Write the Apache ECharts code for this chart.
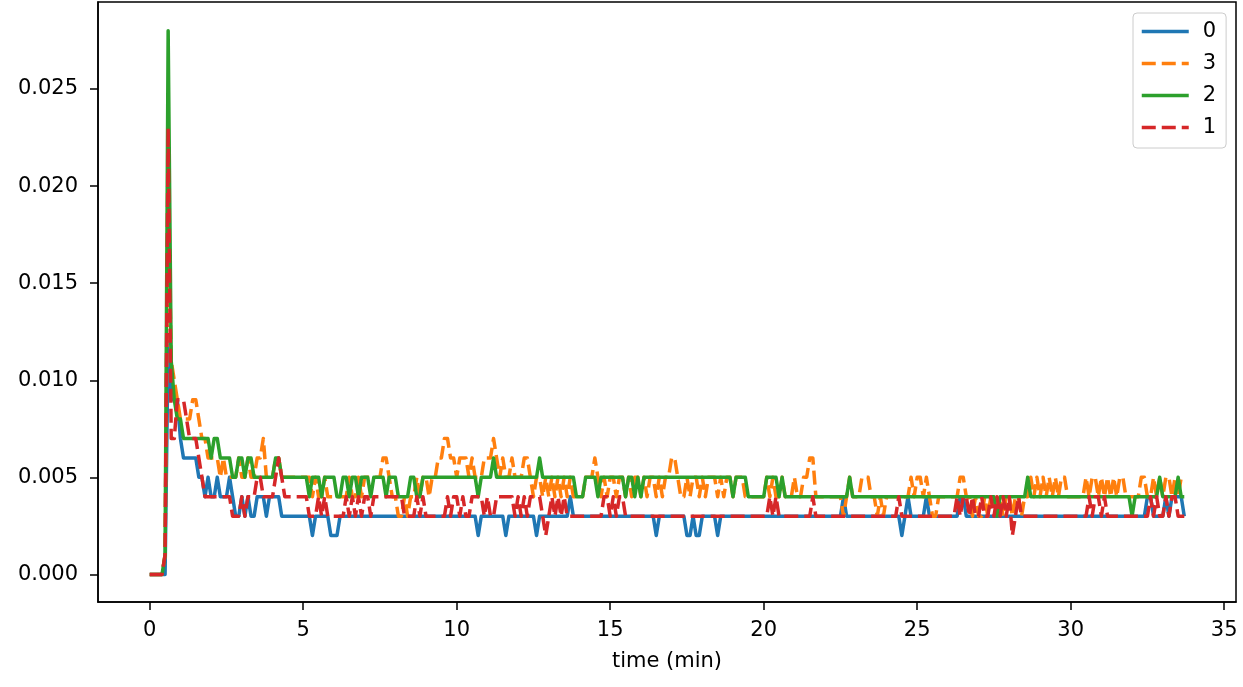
<!DOCTYPE html>
<html>
<head>
<meta charset="utf-8">
<script src="https://cdn.jsdelivr.net/npm/echarts@6/dist/echarts.min.js"></script>
<style>
html,body{margin:0;padding:0;background:#fff;}
#chart{width:1243px;height:687px;}
</style>
</head>
<body>
<div id="chart"></div>
<script>
// Sampling interval of the recording (minutes) and value unit (series values are in units of 0.001)
const SAMPLE_MIN = 0.1;
const UNIT = 0.001;

const seriesNames = ['0', '3', '2', '1'];

// series "0" (values in 0.001 units, one per 0.1 min)
const s0 = [
0,0,0,0,0,0,12,9,9,9,
7,6,6,6,6,6,5,5,4,5,
4,4,5,4,4,4,5,4,3,3,
4,3,4,3,3,4,4,4,3,4,
4,4,4,3,3,3,3,3,3,3,
3,3,3,2,3,3,3,3,3,2,
2,2,3,3,3,3,3,3,3,3,
3,3,3,3,3,3,3,3,3,3,
3,3,3,3,3,3,3,3,3,3,
3,3,3,3,3,3,3,3,3,3,
3,3,3,3,3,3,3,2,3,3,
3,3,3,3,3,3,2,3,3,3,
3,3,3,3,3,3,2,3,3,3,
3,3,3,3,3,3,3,4,3,3,
3,3,3,3,3,3,3,3,3,3,
3,3,3,3,3,3,3,3,3,3,
3,3,3,3,3,2,3,3,3,3,
3,3,3,3,3,2,2,3,2,2,
3,3,3,3,3,2,3,3,3,3,
3,3,3,3,3,3,3,3,3,3,
3,3,3,3,3,3,3,3,3,3,
3,3,3,3,3,3,3,3,3,3,
3,3,3,3,3,3,4,3,3,3,
3,3,3,3,3,3,3,3,3,3,
3,3,3,3,3,2,3,4,3,3,
3,3,3,4,3,3,3,3,3,3,
3,3,3,3,4,4,3,3,3,3,
3,3,3,3,3,3,3,3,3,3,
3,3,3,3,3,3,3,3,3,3,
3,3,3,3,3,3,3,3,3,3,
3,3,3,3,3,3,3,3,3,3,
3,3,3,3,3,3,3,3,3,3,
3,3,3,3,3,4,4,3,3,3,
3,4,3,4,4,4,4,3
];

// series "3"
const s3 = [
0,0,0,0,0,1,20,11,10,9,
8,8,8,8,9,9,8,7,7,6,
6,6,6,5,6,5,5,5,5,6,
5,5,6,5,5,6,6,7,5,5,
5,6,6,5,5,5,5,5,5,5,
5,5,5,4,5,4,4,5,4,4,
4,4,4,4,4,5,4,4,5,4,
5,5,5,5,5,5,6,6,5,4,
4,3,3,4,3,4,4,5,4,5,
5,4,5,5,6,6,7,7,6,6,
5,6,6,6,5,6,5,5,5,6,
6,6,7,6,5,6,5,5,6,5,
5,5,6,6,5,4,5,5,4,5,
4,5,4,5,4,5,4,5,4,4,
4,4,5,5,5,6,5,4,5,4,
5,5,4,5,5,4,5,4,5,5,
4,5,4,5,5,4,5,4,5,5,
6,6,5,4,4,5,4,5,5,4,
5,4,5,5,5,4,5,4,5,5,
4,5,5,5,4,4,4,4,4,4,
4,5,4,5,4,4,5,4,4,4,
5,4,4,5,5,6,6,4,4,4,
4,4,4,4,4,4,3,4,5,4,
4,4,5,5,5,4,4,3,4,3,
4,4,4,4,4,4,4,4,5,4,
5,5,4,5,4,3,3,4,4,4,
4,4,4,4,5,5,4,4,3,4,
3,3,4,3,4,4,3,4,3,4,
4,3,4,4,3,4,4,5,4,5,
4,5,4,5,4,5,4,5,5,4,
4,4,4,4,4,5,4,5,5,4,
5,4,5,4,5,4,5,5,4,4,
4,4,4,5,5,4,4,5,4,5,
4,5,5,4,5,4,5,5
];

// series "2"
const s2 = [
0,0,0,0,0,1,28,11,9,8,
8,7,7,7,7,7,7,7,7,7,
6,7,7,6,6,6,6,5,5,6,
6,5,6,6,5,5,5,5,5,5,
5,6,6,5,5,5,5,5,5,5,
5,5,4,5,5,5,4,5,5,5,
5,4,4,5,5,4,5,5,4,5,
5,5,4,5,5,5,5,4,5,5,
5,4,4,4,4,5,5,4,4,5,
5,5,5,5,5,5,5,5,5,5,
5,5,5,5,5,5,5,4,5,5,
5,5,6,5,5,5,5,5,5,5,
5,5,5,5,5,5,5,6,5,5,
5,5,5,5,5,5,5,5,5,4,
4,4,5,5,5,5,4,5,5,5,
5,5,5,5,5,4,5,5,4,5,
4,5,5,5,5,5,5,5,5,5,
5,5,5,5,5,5,5,5,5,5,
5,5,5,5,5,5,5,5,5,5,
4,5,5,5,5,4,4,4,4,4,
4,5,5,5,5,4,5,4,4,4,
4,4,4,4,4,4,4,4,4,4,
4,4,4,4,4,4,4,4,5,4,
4,4,4,4,4,4,4,4,4,4,
4,4,4,4,4,4,4,4,4,4,
4,4,4,4,4,4,4,4,4,4,
4,4,4,4,4,4,4,4,4,4,
4,4,4,4,4,4,3,4,4,4,
4,4,4,4,4,4,5,4,4,4,
4,4,4,4,4,4,4,4,4,4,
4,4,4,4,4,4,4,4,4,4,
4,4,4,4,4,4,4,4,4,4,
3,4,4,4,4,4,4,4,4,5,
4,4,4,4,4,5,4,4
];

// series "1"
const s1 = [
0,0,0,0,0,1,23,7,7,9,
9,9,8,7,7,7,6,5,4,4,
4,4,4,4,4,4,4,3,3,3,
4,3,4,4,4,5,5,4,4,4,
4,5,6,5,4,4,4,4,4,4,
4,4,3,3,3,4,3,4,3,3,
3,3,3,3,4,3,4,3,4,3,
4,4,3,4,4,4,4,4,4,4,
4,4,4,3,3,3,3,4,3,4,
3,3,3,3,3,3,3,4,3,4,
4,3,4,3,3,4,4,4,4,3,
4,3,3,4,4,4,4,4,4,3,
4,3,4,3,4,4,4,4,3,2,
3,4,3,4,3,4,3,3,3,3,
3,3,3,3,3,3,3,3,4,4,
3,4,3,4,4,3,3,3,3,3,
3,3,3,3,3,3,3,3,3,3,
3,3,3,3,3,3,3,3,3,3,
3,3,3,3,3,3,3,3,3,3,
3,3,3,3,3,3,3,3,3,3,
3,3,4,3,4,3,3,3,3,3,
3,3,3,3,3,3,4,3,3,3,
3,3,3,3,3,3,3,3,3,3,
3,3,3,3,3,3,3,3,3,3,
3,3,3,3,4,3,3,3,3,3,
3,3,3,3,3,3,3,3,3,3,
3,3,3,4,3,4,4,3,4,3,
3,4,3,3,4,3,4,3,4,3,
4,2,3,4,3,3,3,3,3,3,
3,3,3,3,3,3,3,3,3,3,
3,3,3,3,3,3,4,3,4,4,
3,4,3,3,3,3,3,3,3,3,
3,3,3,3,3,3,4,3,4,3,
3,4,3,4,4,3,3,3
];

const xTicks = [0, 5, 10, 15, 20, 25, 30, 35];
const yTicks = [0, 0.005, 0.010, 0.015, 0.020, 0.025];

const colors = ['#1f77b4', '#ff7f0e', '#2ca02c', '#d62728'];
const dashed = [false, true, false, true];
const values = [s0, s3, s2, s1];

const FONT = 'DejaVu Sans';
const FS = 21;
const LINE_W = 3.5;

function toPairs(vals) {
  return vals.map((v, i) => [+(i * SAMPLE_MIN).toFixed(1), +(v * UNIT).toFixed(3)]);
}

const chart = echarts.init(document.getElementById('chart'), null, { renderer: 'canvas' });

const option = {
  animation: false,
  backgroundColor: '#ffffff',
  grid: {
    left: 98, right: 7, top: 2, bottom: 85,
    show: true, borderColor: '#000', borderWidth: 1.5, backgroundColor: 'transparent'
  },
  xAxis: {
    type: 'value', min: -1.685, max: 35.385,
    name: 'time (min)', nameLocation: 'middle', nameGap: 49,
    nameTextStyle: { fontFamily: FONT, fontSize: FS, color: '#000' },
    axisLine: { show: true, onZero: false, lineStyle: { color: '#000', width: 1.5 } },
    axisTick: { show: true, customValues: xTicks, length: 8, inside: false, lineStyle: { color: '#000', width: 1.5 } },
    axisLabel: { customValues: xTicks, margin: 18, fontFamily: FONT, fontSize: FS, color: '#000' },
    splitLine: { show: false }
  },
  yAxis: {
    type: 'value', min: -0.00142, max: 0.02948,
    axisLine: { show: true, onZero: false, lineStyle: { color: '#000', width: 1.5 } },
    axisTick: { show: true, customValues: yTicks, length: 8, inside: false, lineStyle: { color: '#000', width: 1.5 } },
    axisLabel: { customValues: yTicks, margin: 20, fontFamily: FONT, fontSize: FS, color: '#000',
      formatter: v => Number(v).toFixed(3) },
    splitLine: { show: false }
  },
  legend: {
    data: seriesNames,
    orient: 'vertical',
    left: 1133, top: 13,
    padding: [8, 10, 10, 7],
    itemGap: 11,
    itemWidth: 47, itemHeight: 14,
    backgroundColor: 'rgba(255,255,255,0.8)',
    borderColor: '#cccccc', borderWidth: 1, borderRadius: 4,
    textStyle: { fontFamily: FONT, fontSize: FS, color: '#000', padding: [0, 0, 0, 9] },
    itemStyle: { opacity: 0 },
    lineStyle: { width: LINE_W }
  },
  series: values.map((vals, k) => ({
    name: seriesNames[k],
    type: 'line',
    data: toPairs(vals),
    showSymbol: false,
    symbol: 'none',
    silent: true,
    z: 2 + k,
    itemStyle: { color: colors[k] },
    lineStyle: { color: colors[k], width: LINE_W, type: dashed[k] ? [14, 6] : 'solid', cap: 'butt', join: 'round' }
  }))
};

chart.setOption(option);
</script>
</body>
</html>
